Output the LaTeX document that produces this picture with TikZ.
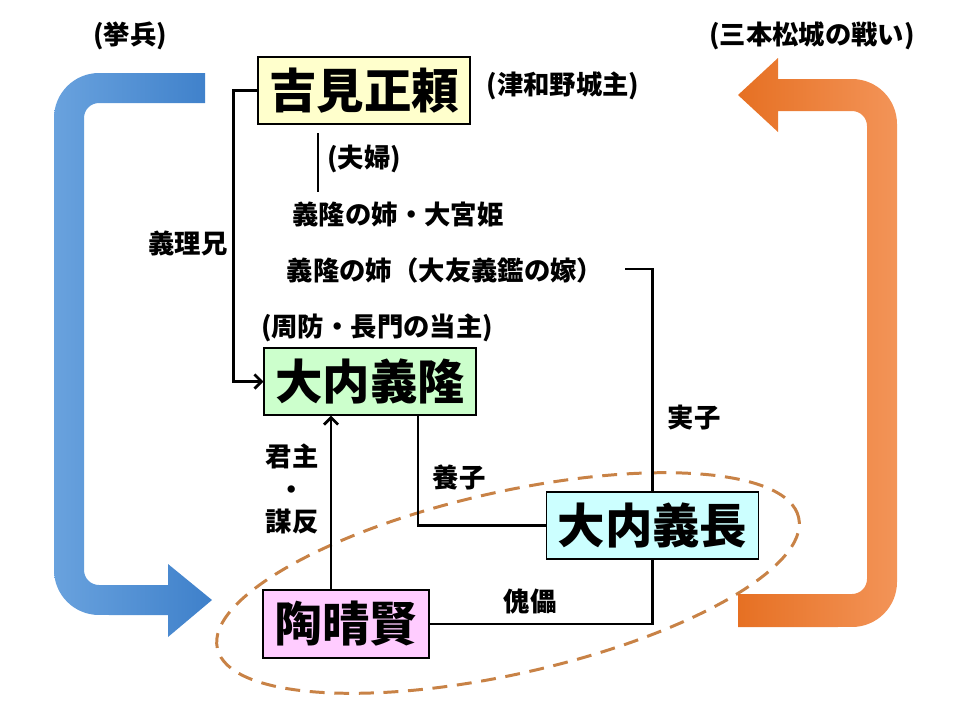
\documentclass[tikz,border=0pt]{standalone}
\usepackage{fontspec}
\newfontfamily\jpfont{Noto Sans CJK JP}
\usetikzlibrary{arrows.meta}
\definecolor{boxyellow}{RGB}{255,255,204}
\definecolor{boxgreen}{RGB}{204,255,204}
\definecolor{boxcyan}{RGB}{204,255,255}
\definecolor{boxpink}{RGB}{255,204,255}
\definecolor{ringbrown}{RGB}{200,130,70}
\definecolor{bluelight}{RGB}{105,162,222}
\definecolor{bluedark}{RGB}{62,128,202}
\definecolor{orangedark}{RGB}{230,112,35}
\definecolor{orangelight}{RGB}{243,148,88}
\tikzset{
  person/.style={draw=black, line width=0.6pt, minimum width=4.24cm, minimum height=1.34cm, inner sep=0pt, font=\jpfont\bfseries\fontsize{27}{30}\selectfont},
  note/.style={inner sep=0pt, font=\jpfont\bfseries\fontsize{15}{18.5}\selectfont},
  link/.style={line width=1.6pt},
}
\begin{document}
\begin{tikzpicture}[x=0.02cm,y=-0.02cm,>={Straight Barb[length=4pt,width=8pt]}]
	\useasboundingbox (0,0) rectangle (960,720);
	% ring round the two rulers
	\draw[ringbrown, line width=1.7pt, dash pattern=on 8.5pt off 5.5pt, rotate around={12.7:(508,583)}] (508,583) ellipse [x radius=5.96cm, y radius=1.82cm];
	% the two big arrows
	\shade[left color=bluelight, right color=bluedark] (205,73) -- (99,73) arc[start angle=90, end angle=180, radius=0.9cm] -- (54,570) arc[start angle=180, end angle=270, radius=0.9cm] -- (168,615) -- (168,637) -- (212,600) -- (168,564) -- (168,585) -- (99,585) arc[start angle=270, end angle=180, radius=0.3cm] -- (84,118) arc[start angle=180, end angle=90, radius=0.3cm] -- (205,103) -- cycle;
	\shade[left color=orangedark, right color=orangelight] (778,79) -- (852,79) arc[start angle=90, end angle=0, radius=0.9cm] -- (897,582) arc[start angle=0, end angle=-90, radius=0.9cm] -- (738,627) -- (738,594) -- (852,594) arc[start angle=-90, end angle=0, radius=0.3cm] -- (867,126) arc[start angle=0, end angle=90, radius=0.3cm] -- (778,111) -- (778,132) -- (738,95) -- (778,58) -- cycle;
	% people
	\node[person, fill=boxyellow] (yoshimi) at (364,90.5) {吉見正頼};
	\node[person, fill=boxgreen] (yoshitaka) at (370,381.5) {大内義隆};
	\node[person, fill=boxcyan] (yoshinaga) at (652.5,525.5) {大内義長};
	\node[person, fill=boxpink, minimum width=3.32cm, minimum height=1.36cm] (harukata) at (346,624) {陶晴賢};
	% labels
	\node[note] (kyohei) at (130,36) {(挙兵)};
	\node[note] (sanbon) at (812,36) {(三本松城の戦い)};
	\node[note] (tsuwano) at (563,86) {(津和野城主)};
	\node[note] (fufu) at (364,159) {(夫婦)};
	\node[note] (omiya) at (398,214) {義隆の姉・大宮姫};
	\node[note] (otomo) at (445,270) {義隆の姉（大友義鑑の嫁）};
	\node[note] (suo) at (377,328) {(周防・長門の当主)};
	\node[note] (giri) at (188,243) {義理兄};
	\node[note] (jisshi) at (694,418) {実子};
	\node[note] (yoshi) at (459,477) {養子};
	\node[note] (kairai) at (530,602) {傀儡};
	\node[note, align=center] (kunshu) at (292,489) {君主\\・\\謀反};
	% links
	\coordinate (fufuA) at (318,133);
	\coordinate (fufuB) at (318,192);
	\coordinate (otomoR) at (625,269);
	\draw[link,->] (yoshimi.west) -- ++(-24,0) |- (yoshitaka.west);
	\draw[link] (fufuA) -- (fufuB);
	\draw[link] (otomoR) -| (yoshinaga.north);
	\draw[link] ([xshift=0.96cm]yoshitaka.south) |- (yoshinaga.west);
	\draw[link] (yoshinaga.south) |- (harukata.east);
	\draw[link,->] ([xshift=-0.3cm]harukata.north) -- ([xshift=-0.3cm]harukata.north |- yoshitaka.south);
\end{tikzpicture}
\end{document}
